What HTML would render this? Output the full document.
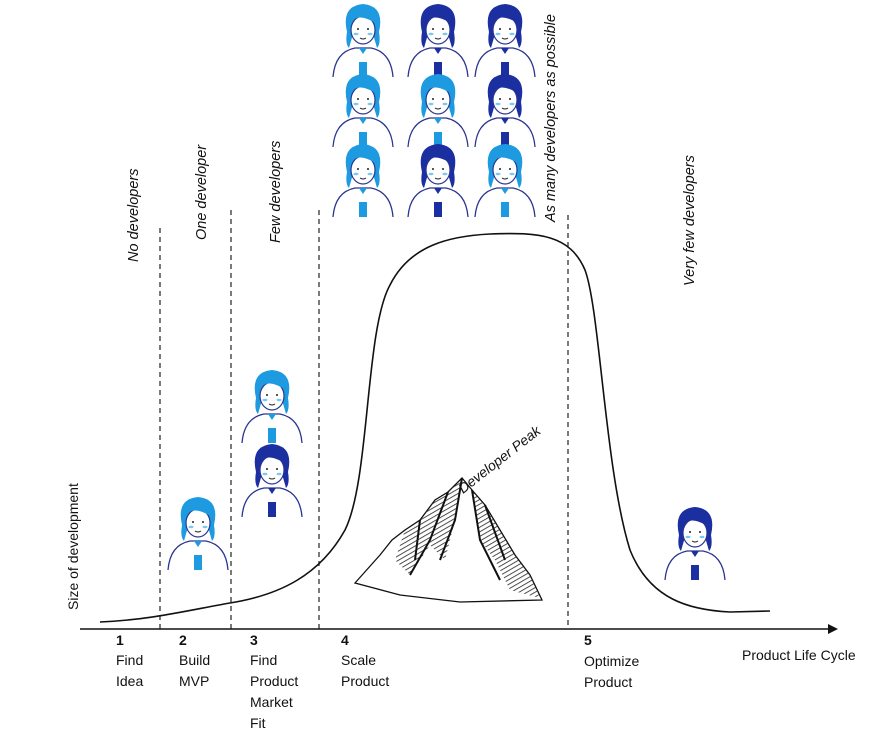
<!DOCTYPE html>
<html><head><meta charset="utf-8"><style>
body{margin:0;background:#fff}
svg{display:block}
text{font-family:"Liberation Sans",sans-serif;fill:#111}
</style></head><body>
<svg width="872" height="736" viewBox="0 0 872 736" xmlns="http://www.w3.org/2000/svg">
<defs>
<pattern id="hatch" width="4" height="4" patternUnits="userSpaceOnUse" patternTransform="rotate(60)">
<line x1="0" y1="0" x2="0" y2="4" stroke="#222" stroke-width="1.6"/>
</pattern>
<g id="av">
 <path d="M-30 35 Q-28 10 -8 6 L8 6 Q28 10 30 35" fill="#fff" stroke="#2a3590" stroke-width="1.3"/>
 <path d="M-16 -10 Q-22 -36 0 -38 Q22 -36 16 -10 Q18 2 14 6 L10 -8 Q0 -30 -10 -8 L-14 6 Q-18 2 -16 -10Z" fill="currentColor"/>
 <ellipse cx="0" cy="-12" rx="12" ry="14" fill="#fff" stroke="#2a3590" stroke-width="1.2"/>
 <path d="M-13 -16 Q-8 -32 14 -18 Q12 -31 0 -32 Q-13 -31 -13 -16Z" fill="currentColor"/>
 <path d="M-4 6 L4 6 L0 12Z" fill="currentColor"/>
 <rect x="-4" y="20" width="8" height="15" fill="currentColor"/>
 <circle cx="-5" cy="-13" r="1" fill="#222"/><circle cx="5" cy="-13" r="1" fill="#222"/>
 <ellipse cx="-7" cy="-8" rx="2.5" ry="1.2" fill="#7cc8f0"/><ellipse cx="7" cy="-8" rx="2.5" ry="1.2" fill="#7cc8f0"/>
 <path d="M-3 -4 Q0 -2 3 -4" stroke="#222" fill="none"/>
</g>
</defs>
<g color="#1e9be0"><use href="#av" x="363" y="42"/></g>
<g color="#1c2fa0"><use href="#av" x="438" y="42"/></g>
<g color="#1c2fa0"><use href="#av" x="505" y="42"/></g>
<g color="#1e9be0"><use href="#av" x="363" y="112"/></g>
<g color="#1e9be0"><use href="#av" x="438" y="112"/></g>
<g color="#1c2fa0"><use href="#av" x="505" y="112"/></g>
<g color="#1e9be0"><use href="#av" x="363" y="182"/></g>
<g color="#1c2fa0"><use href="#av" x="438" y="182"/></g>
<g color="#1e9be0"><use href="#av" x="505" y="182"/></g>
<g color="#1e9be0"><use href="#av" x="198" y="535"/></g>
<g color="#1e9be0"><use href="#av" x="272" y="408"/></g>
<g color="#1c2fa0"><use href="#av" x="272" y="482"/></g>
<g color="#1c2fa0"><use href="#av" x="695" y="545"/></g>
<g stroke="#222" stroke-width="1.2" stroke-dasharray="5,4">
<line x1="160" y1="228" x2="160" y2="629"/>
<line x1="231" y1="210" x2="231" y2="629"/>
<line x1="319" y1="210" x2="319" y2="629"/>
<line x1="568" y1="215" x2="568" y2="629"/>
</g>
<line x1="80" y1="629" x2="832" y2="629" stroke="#111" stroke-width="1.6"/>
<path d="M838 629 L828 624 L828 634Z" fill="#111"/>
<path d="M100 622 C150 620 190 610 230 603 C280 595 320 575 345 530 C370 480 365 330 390 285 C410 245 450 236 490 234 C540 232 570 235 585 270 C600 310 605 470 630 550 C650 600 690 610 730 612 L770 611" fill="none" stroke="#111" stroke-width="1.6"/>
<path d="M355 583 L380 555 L392 540 L405 530 L420 520 L435 500 L448 492 L462 478 L472 490 L485 505 L500 530 L515 555 L530 575 L542 600 L460 602 L400 595 Z" fill="#fff" stroke="#111" stroke-width="1.3"/>
<path d="M462 478 L448 492 L435 500 L420 520 L405 530 L395 560 L410 575 L430 545 L445 560 L455 520 Z" fill="url(#hatch)"/>
<path d="M472 490 L485 505 L500 530 L515 555 L530 575 L540 598 L510 590 L495 560 L480 540 Z" fill="url(#hatch)"/>
<path d="M462 478 L455 520 L440 560 M448 492 L430 540 L410 575 M472 490 L480 540 L500 580 M420 520 L415 560 M485 505 L505 560" stroke="#111" stroke-width="2" fill="none"/>
<text transform="translate(463,494) rotate(-38)" font-size="14" font-style="italic">Developer Peak</text>
<g font-size="14.5" font-style="italic">
<text transform="translate(138,262) rotate(-90)">No developers</text>
<text transform="translate(206,240) rotate(-90)">One developer</text>
<text transform="translate(280,243) rotate(-90)">Few developers</text>
<text transform="translate(555,222) rotate(-90)">As many developers as possible</text>
<text transform="translate(694,286) rotate(-90)">Very few developers</text>
</g>
<text transform="translate(78,610) rotate(-90)" font-size="14">Size of development</text>
<g font-size="14">
<text x="116" y="645" font-weight="bold">1</text><text x="116" y="665">Find</text><text x="116" y="686">Idea</text>
<text x="179" y="645" font-weight="bold">2</text><text x="179" y="665">Build</text><text x="179" y="686">MVP</text>
<text x="250" y="645" font-weight="bold">3</text><text x="250" y="665">Find</text><text x="250" y="686">Product</text><text x="250" y="707">Market</text><text x="250" y="728">Fit</text>
<text x="341" y="645" font-weight="bold">4</text><text x="341" y="665">Scale</text><text x="341" y="686">Product</text>
<text x="584" y="645" font-weight="bold">5</text><text x="584" y="666">Optimize</text><text x="584" y="687">Product</text>
<text x="742" y="660">Product Life Cycle</text>
</g>
</svg>
</body></html>
